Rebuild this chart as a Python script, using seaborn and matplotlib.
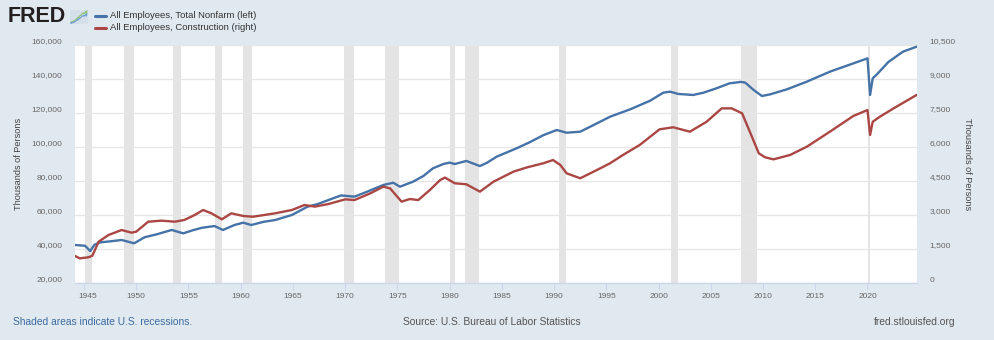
import numpy as np
import pandas as pd
import matplotlib
matplotlib.use("Agg")
import matplotlib.pyplot as plt
import matplotlib.transforms as mtransforms
from matplotlib.lines import Line2D
from matplotlib.ticker import FuncFormatter, FixedLocator
import seaborn as sns

# ---------------- data ----------------
nonfarm_dates = [1944.14, 1945.1, 1945.6, 1946.0, 1946.55, 1947.5, 1948.6, 1949.8, 1950.8,
                 1952.0, 1953.4, 1954.5, 1955.4, 1956.3, 1957.5, 1958.3, 1959.4, 1960.25,
                 1961.0, 1962.2, 1963.3, 1964.9, 1966.4, 1967.4, 1968.4, 1969.6, 1970.9,
                 1972.1, 1973.65, 1974.6, 1975.25, 1976.5, 1977.5, 1978.4, 1979.4, 1980.0,
                 1980.5, 1981.6, 1982.9, 1983.6, 1984.5, 1986.4, 1987.7, 1988.95, 1990.25,
                 1991.2, 1992.5, 1994.1, 1995.35, 1997.3, 1999.2, 2000.45, 2001.1, 2001.9,
                 2003.3, 2004.3, 2005.55, 2006.8, 2007.9, 2008.3, 2009.1, 2009.9, 2010.7,
                 2012.3, 2014.2, 2016.4, 2018.65, 2020.0, 2020.25, 2020.5, 2021.0, 2022.0,
                 2023.4, 2024.7]
nonfarm_values = [42350, 41900, 38800, 42500, 43900, 44500, 45300, 43350, 46900,
                  48700, 51200, 49200, 51000, 52500, 53500, 51200, 54100, 55500,
                  54100, 56000, 57050, 60000, 64900, 66500, 68800, 71500, 70800,
                  73700, 77650, 79000, 76650, 79600, 83000, 87450, 90000, 90800,
                  90000, 91800, 88800, 90800, 94300, 99200, 102900, 106900, 110000,
                  108400, 109000, 113900, 117800, 122200, 127250, 131950, 132550, 131200,
                  130600, 131950, 134550, 137450, 138300, 137850, 133550, 130000, 131000,
                  133950, 138450, 144300, 149200, 152150, 130600, 140400, 143350, 150000,
                  156100, 159000]

cons_dates = [1944.14, 1944.6, 1945.4, 1945.8, 1946.4, 1947.35, 1948.6, 1949.55, 1950.0,
              1951.15, 1952.4, 1953.7, 1954.6, 1955.6, 1956.4, 1957.2, 1958.2, 1959.1,
              1960.25, 1961.2, 1963.3, 1964.9, 1966.1, 1967.1, 1968.4, 1970.0, 1970.9,
              1972.4, 1973.65, 1974.3, 1975.4, 1976.2, 1977.0, 1978.1, 1979.1, 1979.55,
              1980.5, 1981.6, 1982.9, 1984.2, 1986.1, 1987.4, 1988.95, 1989.9, 1990.6,
              1991.2, 1992.5, 1994.1, 1995.35, 1996.6, 1998.2, 2000.1, 2001.4, 2003.0,
              2004.6, 2006.05, 2007.0, 2008.0, 2008.8, 2009.6, 2010.2, 2011.0, 2012.6,
              2014.2, 2016.4, 2018.65, 2020.0, 2020.25, 2020.5, 2021.2, 2022.5, 2024.7]
cons_values = [1191, 1088, 1133, 1200, 1823, 2118, 2338, 2220, 2265,
               2705, 2750, 2705, 2780, 3000, 3220, 3075, 2810, 3075,
               2955, 2925, 3075, 3220, 3440, 3370, 3485, 3690, 3660,
               3955, 4250, 4175, 3590, 3705, 3660, 4100, 4545, 4650,
               4400, 4355, 4030, 4470, 4910, 5100, 5280, 5425, 5205,
               4840, 4620, 4985, 5280, 5650, 6090, 6780, 6870, 6675,
               7115, 7705, 7705, 7485, 6605, 5720, 5545, 5455, 5650,
               6015, 6675, 7370, 7630, 6530, 7115, 7340, 7705, 8295]

recession_starts = [1945.08, 1948.83, 1953.5, 1957.58, 1960.25, 1969.92, 1973.83,
                    1980.0, 1981.5, 1990.5, 2001.17, 2007.92, 2020.08]
recession_ends = [1945.75, 1949.75, 1954.33, 1958.25, 1961.08, 1970.83, 1975.17,
                  1980.5, 1982.83, 1991.17, 2001.83, 2009.42, 2020.25]

x_ticks = [1945, 1950, 1955, 1960, 1965, 1970, 1975, 1980, 1985, 1990, 1995,
           2000, 2005, 2010, 2015, 2020]
left_ticks = [20000, 40000, 60000, 80000, 100000, 120000, 140000, 160000]
right_ticks = [0, 1500, 3000, 4500, 6000, 7500, 9000, 10500]

label_nonfarm = "All Employees, Total Nonfarm (left)"
label_cons = "All Employees, Construction (right)"

# ---------------- style ----------------
BLUE = "#4572A7"
RED = "#AA4643"
BG = "#E1E9F0"
GRID = "#e6e6e6"
REC = "#e4e4e4"
TICK = "#666666"

sns.set_theme(style="white")
plt.rcParams["font.family"] = ["Liberation Sans", "DejaVu Sans"]

W, H = 994, 340
fig = plt.figure(figsize=(W / 100, H / 100), dpi=100, facecolor=BG)
ax = fig.add_axes([75 / W, 57 / H, 842 / W, 238 / H])
ax.set_facecolor("white")

df_nf = pd.DataFrame({"date": nonfarm_dates, "value": nonfarm_values})
df_cs = pd.DataFrame({"date": cons_dates, "value": cons_values})

for s, e in zip(recession_starts, recession_ends):
    ax.axvspan(s, e, color=REC, lw=0, zorder=0)

ax.set_xlim(1944.14, 2024.74)
ax.set_ylim(20000, 160000)
ax.yaxis.set_major_locator(FixedLocator(left_ticks))
ax.yaxis.set_major_formatter(FuncFormatter(lambda v, p: f"{int(v):,}"))
ax.grid(axis="y", color=GRID, lw=0.9, zorder=0.5)
ax.grid(axis="x", visible=False)
ax.set_axisbelow(True)

sns.lineplot(data=df_nf, x="date", y="value", ax=ax, color=BLUE, lw=1.7, zorder=3)

ax2 = ax.twinx()
sns.lineplot(data=df_cs, x="date", y="value", ax=ax2, color=RED, lw=1.7, zorder=3)
ax2.set_ylim(0, 10500)
ax2.yaxis.set_major_locator(FixedLocator(right_ticks))
ax2.yaxis.set_major_formatter(FuncFormatter(lambda v, p: f"{int(v):,}"))
ax2.grid(False)
ax2.set_xlim(1944.14, 2024.74)

ax.xaxis.set_major_locator(FixedLocator(x_ticks))
ax.xaxis.set_major_formatter(FuncFormatter(lambda v, p: f"{int(round(v))}"))

for a in (ax, ax2):
    for side in ("top", "left", "right"):
        a.spines[side].set_visible(False)
    a.spines["bottom"].set_visible(False)
    a.set_xlabel("")
ax.spines["bottom"].set_visible(True)
ax.spines["bottom"].set_color("#ccd6eb")
ax.spines["bottom"].set_linewidth(1.0)

ax.tick_params(axis="x", which="major", direction="out", length=5, width=0.8,
               color="#ccd6eb", labelsize=6.0, labelcolor=TICK, pad=2, bottom=True)
ax.tick_params(axis="y", length=0, labelsize=6.0, labelcolor=TICK, pad=9)
ax2.tick_params(axis="y", length=0, labelsize=6.0, labelcolor=TICK, pad=9)
ax2.tick_params(axis="x", bottom=False, labelbottom=False)

ax.set_ylabel("Thousands of Persons", fontsize=6.6, color="#444444", labelpad=6)
ax2.set_ylabel("Thousands of Persons", fontsize=6.6, color="#444444", rotation=270,
               labelpad=12)

# shift y tick labels slightly above grid lines (as in the reference)
up = mtransforms.ScaledTranslation(0, 4 / 100, fig.dpi_scale_trans)
for lab in ax.get_yticklabels() + ax2.get_yticklabels():
    lab.set_transform(lab.get_transform() + up)
xl = ax.get_xticklabels()
if xl:
    xl[0].set_transform(xl[0].get_transform() +
                        mtransforms.ScaledTranslation(4 / 100, 0, fig.dpi_scale_trans))

# ---------------- header: logo + legend ----------------
fig.text(8 / W, 1 - 17 / H, "FRED", fontsize=15.5, fontweight="bold", color="#231f20",
         va="center", ha="left")
icon = fig.add_axes([70 / W, 1 - 24 / H, 18 / W, 14 / H])
icon.set_facecolor("#d5dfe9")
icon.plot(nonfarm_dates, nonfarm_values, color="#8dc26f", lw=0.8)
icon.plot(nonfarm_dates, [v * 0.8 for v in nonfarm_values], color="#6f9fd8", lw=0.8)
icon.set_xticks([]); icon.set_yticks([])
for sp in icon.spines.values():
    sp.set_visible(False)

for i, (lab, col) in enumerate([(label_nonfarm, BLUE), (label_cons, RED)]):
    yy = 1 - (15.5 + 12 * i) / H
    fig.add_artist(Line2D([95 / W, 106 / W], [yy, yy], transform=fig.transFigure,
                          color=col, lw=2.2))
    fig.text(110 / W, yy, lab, fontsize=6.8, color="#333333", va="center", ha="left")

# ---------------- footer ----------------
fig.text(13 / W, 1 - 322 / H, "Shaded areas indicate U.S. recessions.", fontsize=7.4,
         color="#3c6aa0", va="center", ha="left")
fig.text(492 / W, 1 - 322 / H, "Source: U.S. Bureau of Labor Statistics", fontsize=7.4,
         color="#555555", va="center", ha="center")
fig.text(956 / W, 1 - 322 / H, "fred.stlouisfed.org", fontsize=7.4,
         color="#555555", va="center", ha="right")

fig.savefig("out.png", dpi=100, facecolor=BG)
